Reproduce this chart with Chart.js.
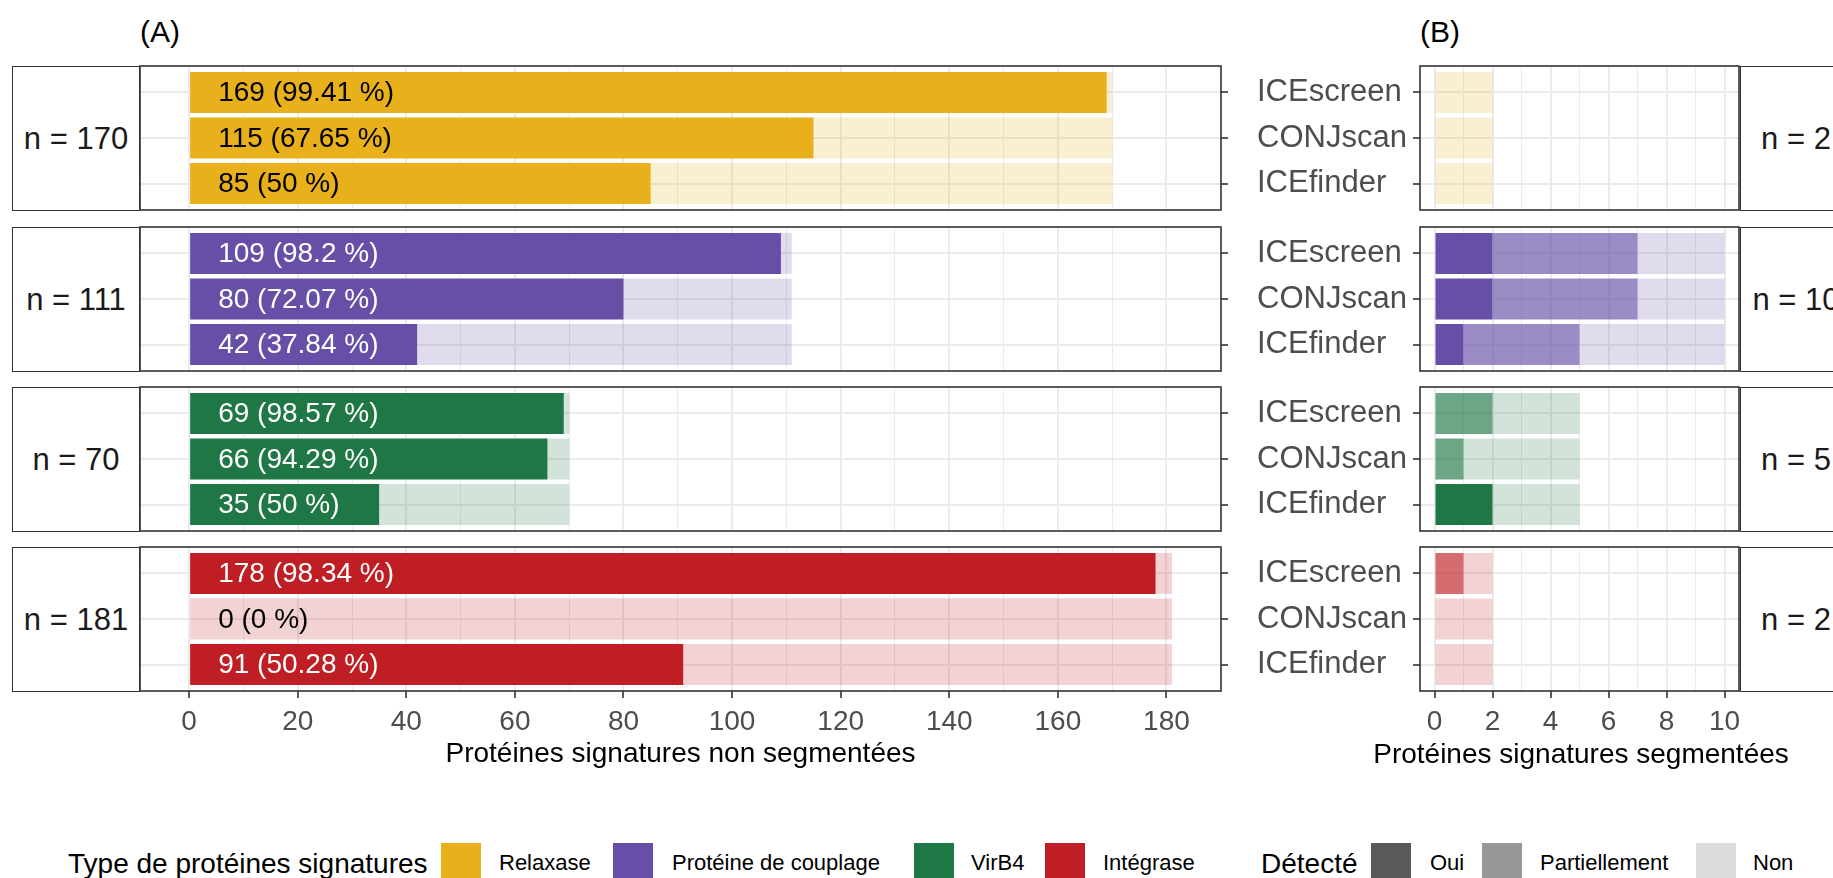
<!DOCTYPE html>
<html>
<head>
<meta charset="utf-8">
<script src="https://cdn.jsdelivr.net/npm/chart.js@4.4.1/dist/chart.umd.min.js"></script>
<style>
  body { margin: 0; width: 1833px; height: 878px; overflow: hidden; background: #fff; position: relative;
         font-family: "Liberation Sans", Arial, sans-serif; }
  canvas { position: absolute; }
  .strip { position: absolute; box-sizing: border-box; border: 1.5px solid #333; background: #fff;
           display: flex; align-items: center; justify-content: center; font-size: 31px; color: #1a1a1a; }
  .txt { position: absolute; white-space: nowrap; line-height: 1; }
  .key { position: absolute; width: 40px; height: 40px; top: 843px; }
</style>
</head>
<body>
<script>
// --- data ---
const tools = ["ICEscreen", "CONJscan", "ICEfinder"];
const proteinTypes = ["Relaxase", "Protéine de couplage", "VirB4", "Intégrase"];
const typeColors = ["#E8B01B", "#674EA7", "#1E7745", "#BE1E24"];
const detectLevels = ["Oui", "Partiellement", "Non"];

// (A) non segmented signature proteins
const totalA = [170, 111, 70, 181];
const detectedA = [
  [169, 115, 85],
  [109, 80, 42],
  [69, 66, 35],
  [178, 0, 91],
];
const ticksA = [0, 20, 40, 60, 80, 100, 120, 140, 160, 180];

// (B) segmented signature proteins
const totalB = [2, 10, 5, 2];
const ouiB = [[0, 0, 0], [2, 2, 1], [0, 0, 2], [0, 0, 0]];
const partielB = [[0, 0, 0], [5, 5, 4], [2, 1, 0], [1, 0, 0]];
const nonB = [[2, 2, 2], [3, 3, 5], [3, 4, 3], [1, 2, 2]];
const ticksB = [0, 2, 4, 6, 8, 10];

// --- layout ---
const facetTop = [66, 227, 387, 547];
const FH = 144;
const PAD = 3;
const AXIS_H = 84;
const alphaLevel = [1, 0.65, 0.2];

Chart.defaults.font.family = '"Liberation Sans", Arial, sans-serif';

const rgba = (hex, a) => {
  const n = parseInt(hex.slice(1), 16);
  return `rgba(${n >> 16},${(n >> 8) & 255},${n & 255},${a})`;
};

const addCanvas = (left, top, w, h) => {
  const c = document.createElement("canvas");
  c.width = w;
  c.height = h;
  c.style.left = left + "px";
  c.style.top = top + "px";
  c.style.width = w + "px";
  c.style.height = h + "px";
  document.body.appendChild(c);
  return c;
};

const addText = (text, left, top, size, color, extra) => {
  const d = document.createElement("div");
  d.className = "txt";
  d.textContent = text;
  d.style.left = left + "px";
  d.style.top = top + "px";
  d.style.fontSize = size + "px";
  d.style.color = color;
  if (extra) Object.assign(d.style, extra);
  document.body.appendChild(d);
  return d;
};

const addStrip = (text, left, top, w, h) => {
  const d = document.createElement("div");
  d.className = "strip";
  d.textContent = text;
  d.style.left = left + "px";
  d.style.top = top + "px";
  d.style.width = w + "px";
  d.style.height = h + "px";
  document.body.appendChild(d);
};

const panelBorder = {
  id: "panelBorder",
  afterDraw(chart) {
    const a = chart.chartArea;
    const c = chart.ctx;
    c.save();
    c.strokeStyle = "#333";
    c.lineWidth = 1.6;
    c.strokeRect(a.left, a.top, a.right - a.left, a.bottom - a.top);
    c.restore();
  },
};

const fmtPct = (v, n) => String(+(v / n * 100).toFixed(2));

const xScale = (min, max, grid, labels, last, title) => ({
  type: "linear",
  min, max,
  stacked: true,
  offset: false,
  afterBuildTicks: (s) => { s.ticks = grid.map((v) => ({ value: v })); },
  afterFit: (s) => { s.height = last ? AXIS_H : 0; s.paddingLeft = 0; s.paddingRight = 0; },
  border: { display: false },
  grid: {
    offset: false,
    color: "#EBEBEB",
    lineWidth: (ctx) => (ctx.tick && labels.includes(ctx.tick.value) ? 2 : 1),
    drawTicks: last,
    tickLength: 7,
    tickWidth: 1.6,
    tickColor: (ctx) => (ctx.tick && labels.includes(ctx.tick.value) ? "#333" : "rgba(0,0,0,0)"),
  },
  ticks: {
    display: last,
    padding: 7,
    autoSkip: false,
    maxRotation: 0,
    color: "#4D4D4D",
    font: { size: 28 },
    callback: (v) => (labels.includes(v) ? String(v) : ""),
  },
  title: {
    display: last && !!title,
    text: title,
    color: "#000",
    font: { size: 28 },
    padding: { top: 0, bottom: 4 },
  },
});

const yScale = (position, width, showLabels) => ({
  type: "linear",
  min: -0.58,
  max: 2.58,
  reverse: true,
  stacked: true,
  offset: false,
  position,
  afterBuildTicks: (s) => { s.ticks = tools.map((t, j) => ({ value: j })); },
  afterFit: (s) => { s.width = width; s.paddingTop = 0; s.paddingBottom = 0; },
  border: { display: false },
  grid: { offset: false, color: "#EBEBEB", lineWidth: 2, drawTicks: true, tickLength: 7, tickWidth: 1.6, tickColor: "#333" },
  ticks: {
    display: showLabels,
    crossAlign: "far",
    color: "#4D4D4D",
    font: { size: 31 },
    callback: (v) => tools[v],
  },
});

const barSet = (label, values, color) => ({
  label,
  data: values.map((v, j) => ({ x: v, y: j })),
  backgroundColor: color,
  borderWidth: 0,
  barPercentage: 0.9,
  categoryPercentage: 1,
});

const baseOptions = (padding, scales) => ({
  indexAxis: "y",
  responsive: false,
  animation: false,
  devicePixelRatio: 1,
  layout: { padding },
  plugins: { legend: { display: false }, tooltip: { enabled: false } },
  scales,
});

const gridA = [];
for (let v = ticksA[0]; v <= ticksA[ticksA.length - 1]; v += 10) gridA.push(v);
const gridB = [];
for (let v = ticksB[0]; v <= ticksB[ticksB.length - 1]; v += 1) gridB.push(v);

// --- strips ---
proteinTypes.forEach((p, i) => {
  addStrip("n = " + totalA[i], 12, facetTop[i], 128, FH + 1);
  addStrip("n = " + totalB[i], 1740, facetTop[i], 112, FH + 1);
});

// --- facets ---
proteinTypes.forEach((p, i) => {
  const last = i === proteinTypes.length - 1;
  const col = typeColors[i];

  // panel (A)
  const wA = PAD + 1081 + 10;
  const hA = PAD + FH + (last ? AXIS_H : PAD);
  const cA = addCanvas(140 - PAD, facetTop[i] - PAD, wA, hA);
  const barLabels = {
    id: "barLabels",
    afterDatasetsDraw(chart) {
      const c = chart.ctx;
      const xs = chart.scales.x;
      const ys = chart.scales.y;
      c.save();
      c.font = '28px "Liberation Sans", Arial, sans-serif';
      c.textBaseline = "middle";
      c.textAlign = "left";
      detectedA[i].forEach((v, j) => {
        c.fillStyle = i === 0 || v === 0 ? "#000" : "#fff";
        c.fillText(`${v} (${fmtPct(v, totalA[i])} %)`, xs.getPixelForValue(0) + 29, ys.getPixelForValue(j) + 1);
      });
      c.restore();
    },
  };
  new Chart(cA, {
    type: "bar",
    data: {
      datasets: [
        barSet("Oui", detectedA[i], rgba(col, alphaLevel[0])),
        barSet("Non", detectedA[i].map((v) => totalA[i] - v), rgba(col, alphaLevel[2])),
      ],
    },
    options: baseOptions({ left: PAD, top: PAD, right: 0, bottom: last ? 0 : PAD }, {
      x: xScale(-9.05, 190.05, gridA, ticksA, last, "Protéines signatures non segmentées"),
      y: yScale("right", 10, false),
    }),
    plugins: [panelBorder, barLabels],
  });

  // panel (B)
  const axisW = 163;
  const wB = axisW + 319 + 20;
  const hB = PAD + FH + (last ? AXIS_H : PAD);
  const cB = addCanvas(1420 - axisW, facetTop[i] - PAD, wB, hB);
  new Chart(cB, {
    type: "bar",
    data: {
      datasets: [
        barSet("Oui", ouiB[i], rgba(col, alphaLevel[0])),
        barSet("Partiellement", partielB[i], rgba(col, alphaLevel[1])),
        barSet("Non", nonB[i], rgba(col, alphaLevel[2])),
      ],
    },
    options: baseOptions({ left: 0, top: PAD, right: 20, bottom: last ? 0 : PAD }, {
      x: xScale(-0.5, 10.5, gridB, ticksB, last, ""),
      y: yScale("left", axisW, true),
    }),
    plugins: [panelBorder],
  });
});

// axis title of panel (B), wider than its panel
addText("Protéines signatures segmentées", 1581, 740, 28, "#000", { transform: "translateX(-50%)" });

// --- panel tags ---
addText("(A)", 140, 17, 30, "#000");
addText("(B)", 1420, 17, 30, "#000");

// --- legend ---
addText("Type de protéines signatures", 68, 850, 28, "#000");
const typeKeyX = [441, 613, 914, 1045];
const typeLabelX = [499, 672, 971, 1103];
proteinTypes.forEach((p, i) => {
  const k = document.createElement("div");
  k.className = "key";
  k.style.left = typeKeyX[i] + "px";
  k.style.background = typeColors[i];
  document.body.appendChild(k);
  addText(p, typeLabelX[i], 852, 22, "#000");
});
addText("Détecté", 1261, 850, 28, "#000");
const levelKeyColors = ["#595959", "#979797", "#DDDDDD"];
const levelKeyX = [1371, 1482, 1696];
const levelLabelX = [1430, 1540, 1753];
detectLevels.forEach((d, i) => {
  const k = document.createElement("div");
  k.className = "key";
  k.style.left = levelKeyX[i] + "px";
  k.style.background = levelKeyColors[i];
  document.body.appendChild(k);
  addText(d, levelLabelX[i], 852, 22, "#000");
});
</script>
</body>
</html>
